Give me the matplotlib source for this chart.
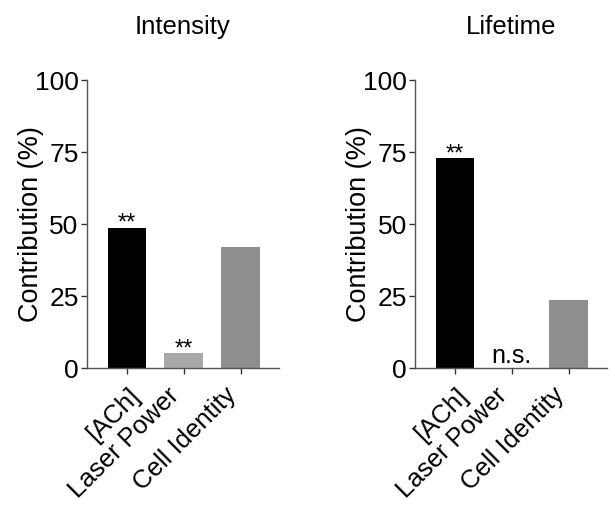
import matplotlib
matplotlib.use("Agg")
import matplotlib.pyplot as plt
import matplotlib.transforms as mtrans

plt.rcParams['font.family'] = ['Liberation Sans', 'DejaVu Sans']

categories = ["[ACh]", "Laser Power", "Cell Identity"]
intensity = [48.8, 5.2, 41.9]
lifetime = [72.9, 0.0, 23.5]
intensity_sig = ["**", "**", ""]
lifetime_sig = ["**", "n.s.", ""]
titles = ["Intensity", "Lifetime"]
colors = ["#000000", "#a8a8aa", "#8e8e8e"]
yticks = [0, 25, 50, 75, 100]

fig = plt.figure(figsize=(6.15, 5.07), dpi=100)
axes = [fig.add_axes([0.1415, 0.274, 0.312, 0.568]),
        fig.add_axes([0.675, 0.274, 0.312, 0.568])]

for ax, vals, sigs, title in zip(axes, [intensity, lifetime],
                                 [intensity_sig, lifetime_sig], titles):
    x = list(range(len(categories)))
    ax.bar(x, vals, width=0.68, color=colors, edgecolor='none')
    ax.set_xlim(-0.7, 2.67)
    ax.set_ylim(0, 100)
    ax.set_yticks(yticks)
    ax.set_xticks(x)
    ax.set_xticklabels(categories, rotation=45, ha='right', va='top',
                       fontsize=18.5)
    ax.tick_params(axis='y', labelsize=19, length=4, width=1,
                   color='#333333', pad=2)
    ax.tick_params(axis='x', length=4, width=1, color='#333333', pad=7)
    # first label sits slightly to the right in the original
    lab = ax.get_xticklabels()[0]
    lab.set_transform(lab.get_transform() +
                      mtrans.ScaledTranslation(0.18, 0, fig.dpi_scale_trans))
    for s in ['top', 'right']:
        ax.spines[s].set_visible(False)
    for s in ['left', 'bottom']:
        ax.spines[s].set_color('#555555')
        ax.spines[s].set_linewidth(1)
    ax.set_ylabel("Contribution (%)", fontsize=19.5)
    ax.yaxis.set_label_coords(-0.225, 0.5)
    ax.set_title(title, fontsize=18.5, pad=33)
    for xi, v, s in zip(x, vals, sigs):
        if s == "**":
            ax.annotate(s, (xi, v), xytext=(0, -5), textcoords='offset points',
                        ha='center', va='bottom', fontsize=17)
        elif s:
            ax.annotate(s, (xi, v), xytext=(0, 0), textcoords='offset points',
                        ha='center', va='bottom', fontsize=18)

fig.savefig("out.png", dpi=100)
